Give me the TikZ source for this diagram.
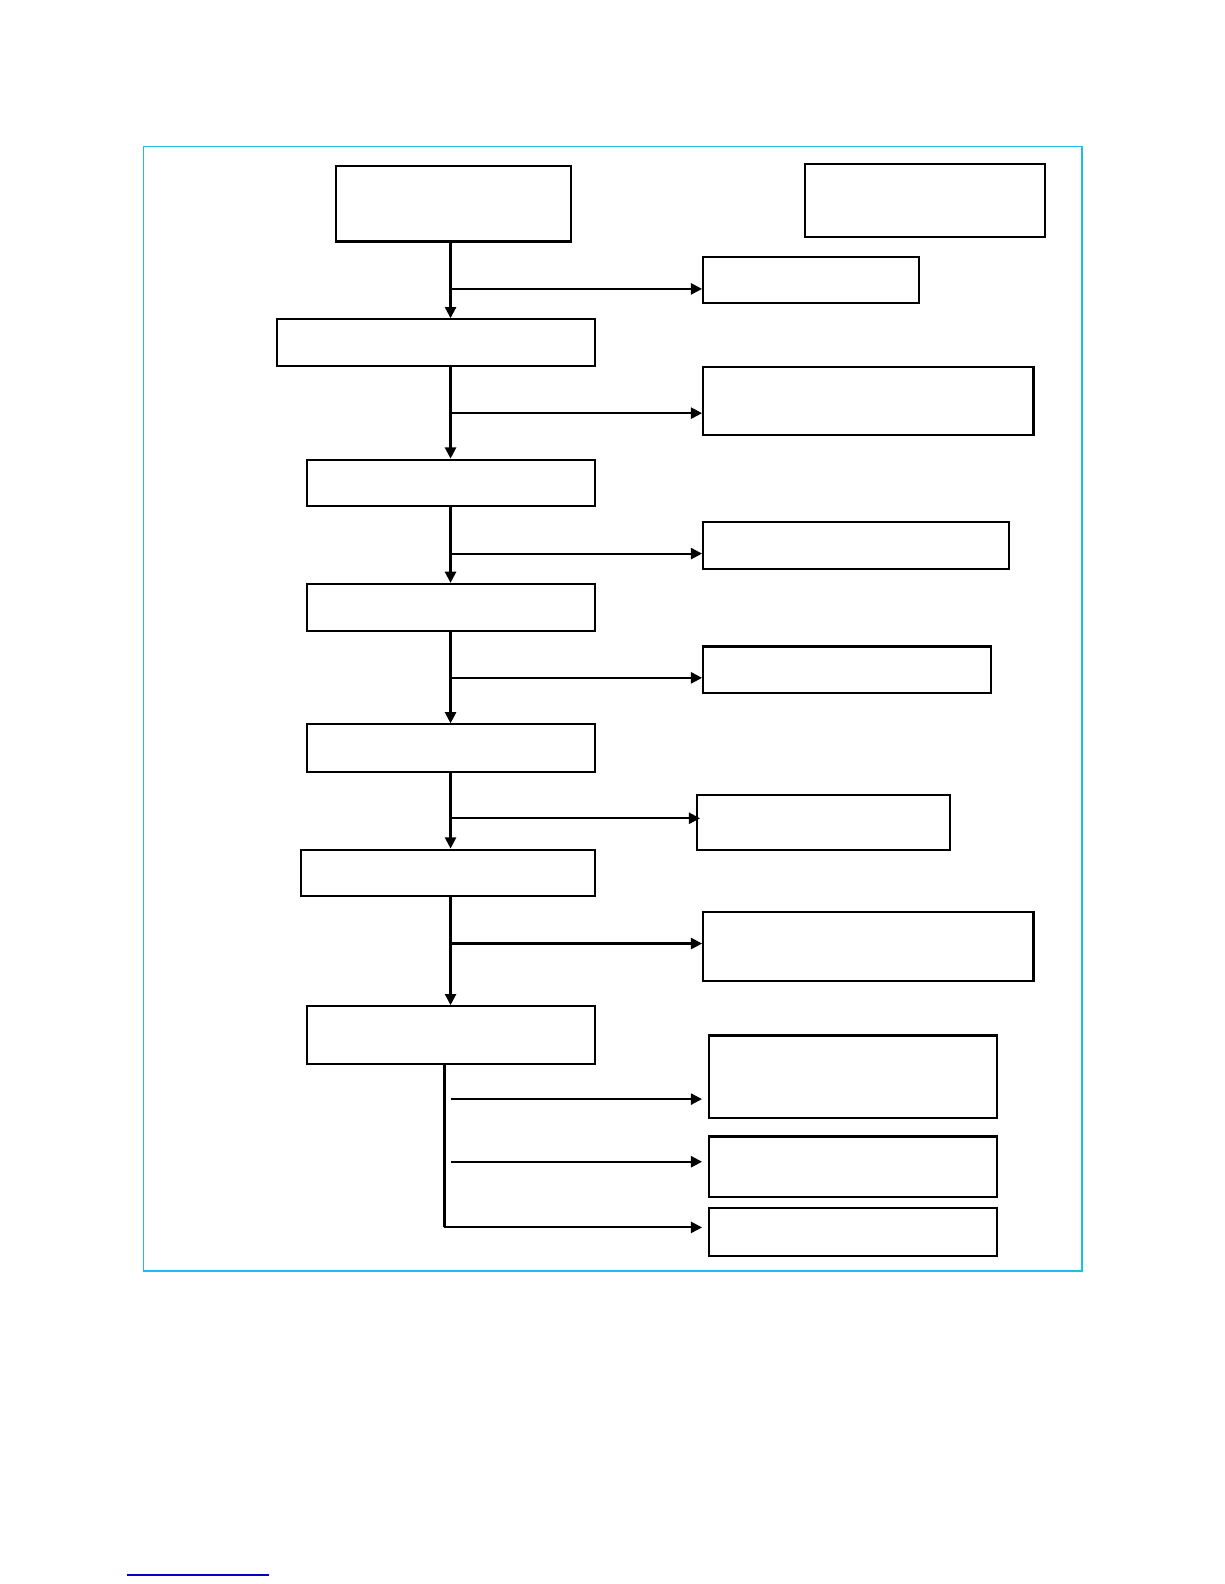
\documentclass[tikz,border=0pt]{standalone}
\usetikzlibrary{arrows.meta}
\begin{document}
\begin{tikzpicture}[x=1bp,y=-1bp,
  box/.style={draw=black, line width=2.1bp, inner sep=0pt, fill=white},
  arr/.style={line width=2.1bp, -{Triangle[length=11bp,width=11bp]}},
  ln/.style={line width=2.1bp}]
\useasboundingbox (0,0) rectangle (1212,1568);
\fill[white] (0,0) rectangle (1212,1568);
% frame
\draw[color={rgb,255:red,30;green,190;blue,235}, line width=1.8bp] (142,145) rectangle (1071,1258);
% left boxes
\node[box, minimum width=232bp, minimum height=75bp] (B1) at (449,201.5) {};
\node[box, minimum width=315bp, minimum height=46bp] (B2) at (431.5,339) {};
\node[box, minimum width=285bp, minimum height=46bp] (B3) at (446.5,478) {};
\node[box, minimum width=285bp, minimum height=47bp] (B4) at (446.5,601.5) {};
\node[box, minimum width=285bp, minimum height=47bp] (B5) at (446.5,740.5) {};
\node[box, minimum width=291bp, minimum height=46bp] (B6) at (443.5,864) {};
\node[box, minimum width=285bp, minimum height=57bp] (B7) at (446.5,1024.5) {};
% right boxes
\node[box, minimum width=237bp, minimum height=73bp] (T) at (915.5,198.5) {};
\node[box, minimum width=214bp, minimum height=46bp] (R1) at (803,277) {};
\node[box, minimum width=327bp, minimum height=68bp] (R2) at (859.5,397) {};
\node[box, minimum width=303bp, minimum height=46bp] (R3) at (847.5,540) {};
\node[box, minimum width=285bp, minimum height=46bp] (R4) at (838.5,663) {};
\node[box, minimum width=250bp, minimum height=54bp] (R5) at (815,814) {};
\node[box, minimum width=327bp, minimum height=68bp] (R6) at (859.5,937) {};
\node[box, minimum width=285bp, minimum height=82bp] (R7) at (844.5,1066) {};
\node[box, minimum width=285bp, minimum height=60bp] (R8) at (844.5,1155) {};
\node[box, minimum width=285bp, minimum height=47bp] (R9) at (844.5,1219.5) {};
% trunk
\coordinate (trunk) at (446,0);
\draw[arr] (B1.south -| trunk) -- (B2.north -| trunk);
\draw[arr] (B2.south -| trunk) -- (B3.north -| trunk);
\draw[arr] (B3.south -| trunk) -- (B4.north -| trunk);
\draw[arr] (B4.south -| trunk) -- (B5.north -| trunk);
\draw[arr] (B5.south -| trunk) -- (B6.north -| trunk);
\draw[arr] (B6.south -| trunk) -- (B7.north -| trunk);
% branches
\coordinate (j1) at (446,286);
\coordinate (j2) at (446,409);
\coordinate (j3) at (446,548);
\coordinate (j4) at (446,671);
\coordinate (j5) at (446,810);
\coordinate (j6) at (446,934);
\draw[arr] (j1) -- (j1 -| R1.west);
\draw[arr] (j2) -- (j2 -| R2.west);
\draw[arr] (j3) -- (j3 -| R3.west);
\draw[arr] (j4) -- (j4 -| R4.west);
\draw[arr] (j5) -- ([xshift=4bp]j5 -| R5.west);
\draw[arr] (j6) -- (j6 -| R6.west);
% bottom group
\coordinate (t2) at (440,0);
\coordinate (j9) at (440,1215);
\coordinate (j7) at (446,1088);
\coordinate (j8) at (446,1150);
\draw[ln] (B7.south -| t2) -- (j9);
\draw[arr] (j9) -- ([xshift=-6bp]j9 -| R9.west);
\draw[arr] (j7) -- ([xshift=-6bp]j7 -| R7.west);
\draw[arr] (j8) -- ([xshift=-6bp]j8 -| R8.west);
% underline
\draw[color={rgb,255:red,0;green,0;blue,200}, line width=1.4bp] (126,1559) -- (266,1559);
\end{tikzpicture}
\end{document}
